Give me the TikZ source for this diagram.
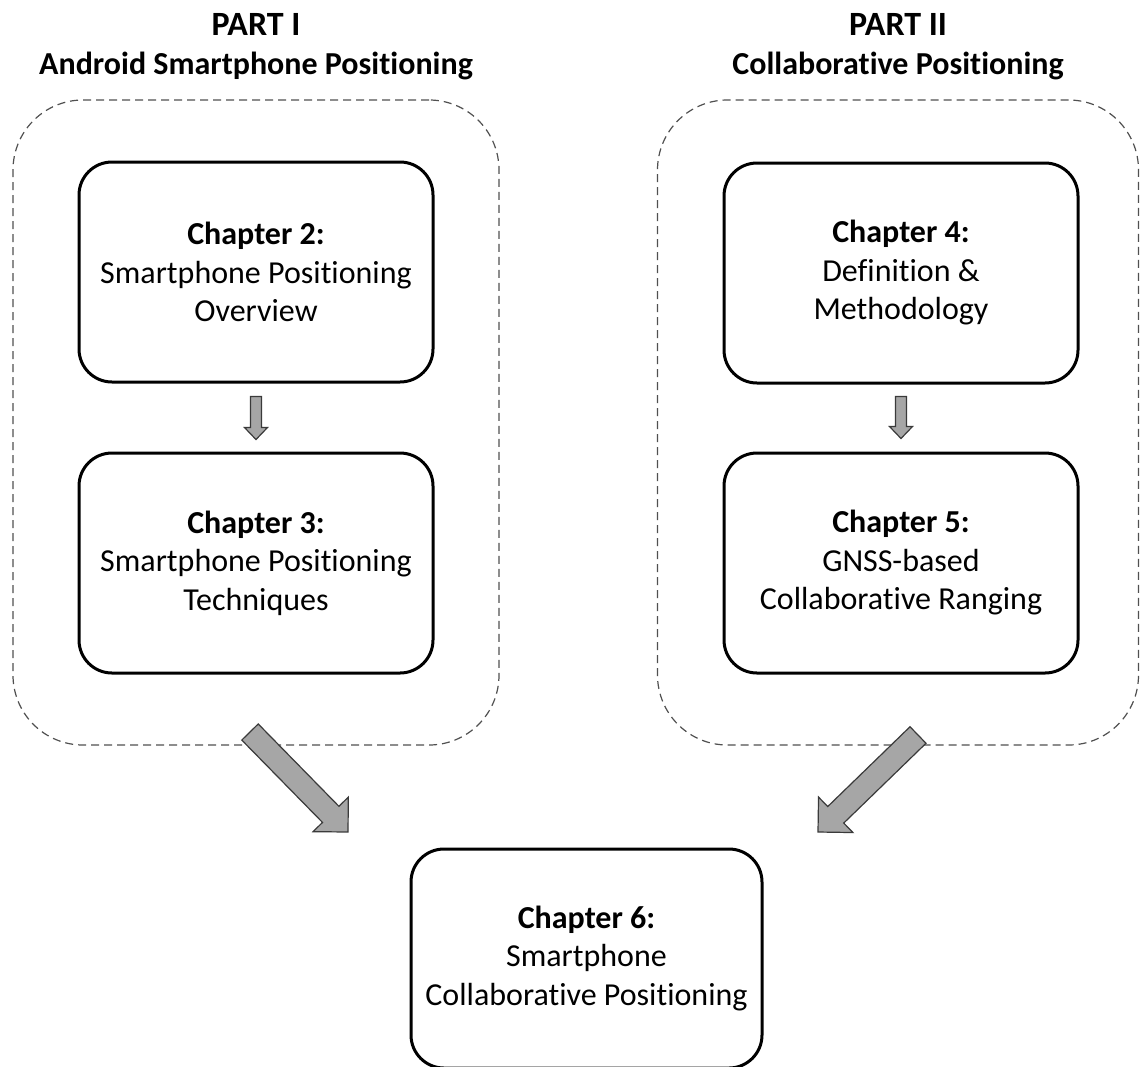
\documentclass[tikz,border=0pt]{standalone}
\usepackage{fontspec}
\setmainfont{Carlito}[Ligatures={NoCommon}]
\usetikzlibrary{calc}
\definecolor{arrowfill}{HTML}{A6A6A6}
\definecolor{arrowline}{HTML}{3A3A3A}
\definecolor{dashgray}{HTML}{505050}
\begin{document}
\begin{tikzpicture}[x=1pt,y=-1pt,
  chapbox/.style={draw=black, line width=3pt, rounded corners=33pt,
    minimum width=354pt, minimum height=220pt, inner sep=0pt, align=center,
    font=\fontsize{32}{38.5}\selectfont},
  groupbox/.style={draw=dashgray, line width=1.2pt, dash pattern=on 8pt off 5pt,
    rounded corners=70pt, inner sep=0pt},
  parttitle/.style={font=\bfseries\fontsize{34}{40}\selectfont, anchor=base},
  partsub/.style={font=\bfseries\fontsize{32}{38}\selectfont, anchor=base},
  fatarrow/.style n args={3}{draw=arrowline, fill=arrowfill, line width=1.2pt,
    line join=miter, to path={
      ($(\tikztostart)!#1!90:(\tikztotarget)$)
      -- ($(\tikztotarget)!#3!(\tikztostart)!#1!-90:(\tikztostart)$)
      -- ($(\tikztotarget)!#3!(\tikztostart)!#2!-90:(\tikztostart)$)
      -- (\tikztotarget)
      -- ($(\tikztotarget)!#3!(\tikztostart)!#2!90:(\tikztostart)$)
      -- ($(\tikztotarget)!#3!(\tikztostart)!#1!90:(\tikztostart)$)
      -- ($(\tikztostart)!#1!-90:(\tikztotarget)$) -- cycle}}
]
\useasboundingbox (0,0) rectangle (1140,1066);

% part titles
\node[parttitle] (p1t) at (256,35) {PART I};
\node[partsub] (p1s) at (256,74) {Android Smartphone Positioning};
\node[parttitle] (p2t) at (898,35) {PART II};
\node[partsub] (p2s) at (898,74) {Collaborative Positioning};

% dashed groups
\node[groupbox, minimum width=486pt, minimum height=645pt] (g1) at (256,422.5) {};
\node[groupbox, minimum width=481pt, minimum height=645pt] (g2) at (898,422.5) {};

% chapter boxes
\node[chapbox] (ch2) at (256,272) {\textbf{Chapter 2:}\\Smartphone Positioning\\Overview};
\node[chapbox] (ch3) at (256,563) {\textbf{Chapter 3:}\\Smartphone Positioning\\Techniques};
\node[chapbox] (ch4) at (901,273) {\textbf{Chapter 4:}\\Definition \&\\Methodology};
\node[chapbox] (ch5) at (901,563) {\textbf{Chapter 5:}\\GNSS-based\\Collaborative Ranging};
\node[chapbox, minimum width=351pt, minimum height=219pt] (ch6) at (586.5,958.5) {\textbf{Chapter 6:}\\Smartphone\\Collaborative Positioning};

% small arrows
\coordinate (a1s) at ($(ch2.south)+(0,13)$);
\coordinate (a1e) at ($(ch3.north)+(0,-12)$);
\coordinate (a2s) at ($(ch4.south)+(0,12)$);
\coordinate (a2e) at ($(ch5.north)+(0,-13)$);
\path[fatarrow={5.5pt}{11.5pt}{12pt}] (a1s) to (a1e);
\path[fatarrow={5.5pt}{11.5pt}{12pt}] (a2s) to (a2e);

% big arrows
\coordinate (b1s) at (250,732);
\coordinate (b1e) at (348,832);
\coordinate (b2s) at (918,735);
\coordinate (b2e) at (818,832);
\path[fatarrow={11.5pt}{24.7pt}{24.7pt}] (b1s) to (b1e);
\path[fatarrow={11.5pt}{24.7pt}{24.7pt}] (b2s) to (b2e);
\end{tikzpicture}
\end{document}
